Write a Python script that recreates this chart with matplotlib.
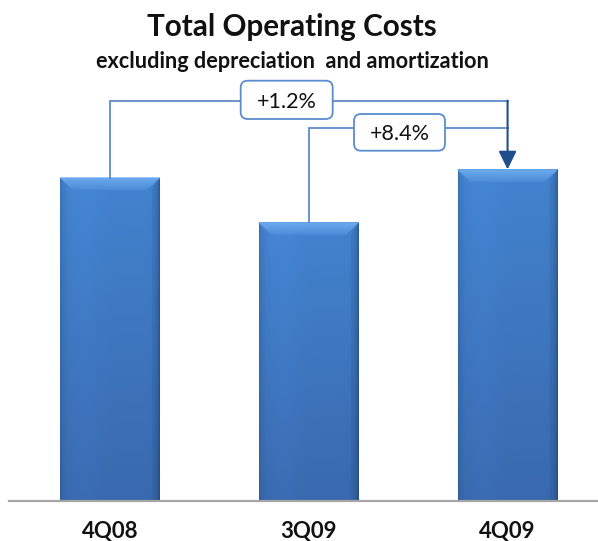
import numpy as np
import matplotlib
matplotlib.use("Agg")
import matplotlib.pyplot as plt
from matplotlib.patches import Polygon, FancyBboxPatch, FancyArrowPatch

categories = ["4Q08", "3Q09", "4Q09"]
values = [100.0, 93.4, 101.2]
change_labels = ["+1.2%", "+8.4%"]   # 4Q08->4Q09, 3Q09->4Q09

W, H, DPI = 598, 541, 100
fig = plt.figure(figsize=(W / DPI, H / DPI), dpi=DPI)
fig.patch.set_facecolor("white")

base_px = 500.7
ax = fig.add_axes([0, 1 - base_px / H, 1, base_px / H])
XL = (-0.5535, 2.455)
YL = (52.5, 126.1)
ax.set_xlim(*XL)
ax.set_ylim(*YL)
ax.set_facecolor("none")
for s in ax.spines.values():
    s.set_visible(False)
ax.set_yticks([])

x = np.arange(len(categories))
bars = ax.bar(x, values, width=0.503, color="#3F7BC4", zorder=2)

# pixel scale helpers
xpx = W / (XL[1] - XL[0])
ypx = base_px / (YL[1] - YL[0])

# gradient fill for bars
nu, nv = 160, 200
u = np.linspace(0, 1, nu)
v = np.linspace(0, 1, nv)[:, None]          # 0 top -> 1 bottom
top_c = np.array([0x43, 0x83, 0xCF]) / 255
bot_c = np.array([0x39, 0x69, 0xAE]) / 255
basecol = top_c * (1 - v[..., None]) + bot_c * v[..., None]
shade = 1 - 0.12 * np.exp(-u / 0.02) - 0.28 * np.exp(-(1 - u) / 0.025) \
        + 0.03 * np.exp(-((u - 0.25) / 0.15) ** 2)
img = np.clip(basecol * shade[None, :, None], 0, 1)

for b in bars:
    x0, w, h = b.get_x(), b.get_width(), b.get_height()
    y0 = b.get_y()
    ylo = YL[0]
    im = ax.imshow(img, extent=[x0, x0 + w, ylo, y0 + h], aspect="auto",
                   zorder=3, interpolation="bilinear")
    im.set_clip_path(b)
    top = y0 + h
    dx = 13 / xpx
    dy = 12 / ypx
    # top bevel: layered bands light at top, fading down
    nb = 12
    cols_top = np.array([0x70, 0xAE, 0xF2]) / 255
    cols_bot = np.array([0x4E, 0x8D, 0xD8]) / 255
    for k in range(nb):
        f0, f1 = k / nb, (k + 1) / nb
        c = cols_top * (1 - f0) + cols_bot * f0
        poly = Polygon([[x0 + dx * f0, top - dy * f0], [x0 + w - dx * f0, top - dy * f0],
                        [x0 + w - dx * f1, top - dy * f1], [x0 + dx * f1, top - dy * f1]],
                       closed=True, facecolor=c, edgecolor=c, lw=0.3, zorder=4)
        ax.add_patch(poly)
    # subtle side bevels
    ls = Polygon([[x0, top], [x0 + dx * 0.5, top - dy], [x0 + dx * 0.5, ylo], [x0, ylo]], closed=True,
                 facecolor="#2F62A6", alpha=0.10, edgecolor="none", zorder=4)
    rs = Polygon([[x0 + w, top], [x0 + w - dx * 0.6, top - dy], [x0 + w - dx * 0.6, ylo], [x0 + w, ylo]],
                 closed=True, facecolor="#1E4A85", alpha=0.14, edgecolor="none", zorder=4)
    ax.add_patch(ls)
    ax.add_patch(rs)

ax.set_xlim(*XL)
ax.set_ylim(*YL)

# baseline
ax.axhline(YL[0], xmin=9 / W, xmax=1, color="#A6A6A6", lw=1.6,
           zorder=5, clip_on=False)

# connectors
light = "#4F81C4"
navy = "#1F4E8C"
level1 = max(values) + 10.1
level2 = max(values) + 6.1
ax.plot([x[0], x[0], x[2]], [values[0], level1, level1], color=light, lw=1.2, zorder=6,
        solid_joinstyle="miter")
ax.plot([x[1], x[1], x[2]], [values[1], level2, level2], color=light, lw=1.2, zorder=6,
        solid_joinstyle="miter")
arr = FancyArrowPatch((x[2], level1), (x[2], values[2]),
                      arrowstyle="-|>,head_length=11,head_width=5.4",
                      mutation_scale=1, color=navy, lw=1.5, shrinkA=0, shrinkB=0, zorder=7)
ax.add_patch(arr)

# label boxes (pixel layout)
boxes = [(240.7, 80.7, 92, 38.3), (354.0, 114.0, 91, 36.7)]
for (bx, by, bw, bh), lab in zip(boxes, change_labels):
    p = FancyBboxPatch((bx / DPI, (H - by - bh) / DPI), bw / DPI, bh / DPI,
                       boxstyle="round,pad=0,rounding_size=0.07",
                       transform=fig.dpi_scale_trans, facecolor="white",
                       edgecolor="#5B8BD0", lw=1.3, zorder=8)
    fig.add_artist(p)
    fig.text((bx + bw / 2) / W, 1 - (by + bh / 2) / H, lab, ha="center", va="center_baseline",
             fontsize=15.5, family="Lato", color="#111111", zorder=9)

# titles
fig.text(292 / W, 1 - 36 / H, "Total Operating Costs", ha="center", va="baseline",
         fontsize=21.3, fontweight="bold", family="Lato", color="#111111")
fig.text(292.5 / W, 1 - 68 / H, "excluding depreciation  and amortization", ha="center",
         va="baseline", fontsize=15.6, fontweight="bold", family="Lato", color="#111111")

# category labels
ax.set_xticks(x)
ax.set_xticklabels(categories, fontsize=16, fontweight="bold", family="Lato", color="#111111")
ax.tick_params(axis="x", length=0, pad=26.9)
for lbl in ax.get_xticklabels():
    lbl.set_va("baseline")

fig.savefig("out.png", dpi=DPI, facecolor="white")
